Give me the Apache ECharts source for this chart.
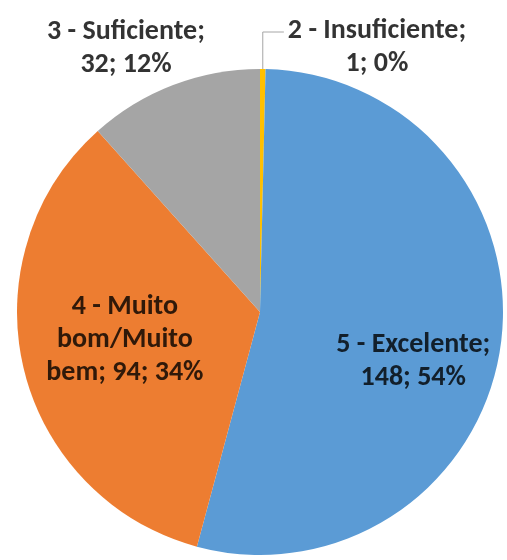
<!DOCTYPE html>
<html>
<head>
<meta charset="utf-8">
<script src="https://cdn.jsdelivr.net/npm/echarts@6/dist/echarts.min.js"></script>
</head>
<body style="margin:0;background:#fff">
<div id="main" style="width:507px;height:560px;"></div>
<script>
// slices go clockwise from 12 o'clock, same order as the excel chart
var categories = ['2 - Insuficiente', '5 - Excelente', '4 - Muito bom/Muito bem', '3 - Suficiente'];
var counts = [1, 148, 94, 32];
var colors = ['#FFC000', '#5B9BD5', '#ED7D31', '#A5A5A5'];

// max chars per label line (excel wraps them like this)
var wrapAt = [17, 14, 12, 15];
// outside labels get a fixed spot, inside ones just a nudge
var labelSpots = [
    {x: 377, y: 47},
    {dx: 30, dy: 32},
    {dx: -14, dy: -1},
    {x: 126, y: 48}
];

function wrap(s, n) {
    var words = s.split(' '), lines = [], cur = '';
    words.forEach(function (w) {
        if (cur && (cur + ' ' + w).length > n) {
            lines.push(cur);
            cur = w;
        } else {
            cur = cur ? cur + ' ' + w : w;
        }
    });
    lines.push(cur);
    return lines.join('\n');
}

var myChart = echarts.init(document.getElementById('main'));

var data = categories.map(function (name, i) {
    var outside = labelSpots[i].x != null;
    return {
        name: name,
        value: counts[i],
        itemStyle: {color: colors[i]},
        label: {position: outside ? 'outside' : 'inside'},
        labelLine: {show: i === 0}
    };
});

option = {
    animation: false,
    series: [{
        type: 'pie',
        center: [260, 312],
        radius: 243,
        startAngle: 90,
        clockwise: true,
        avoidLabelOverlap: false,
        data: data,
        label: {
            fontFamily: 'Carlito, Lato, sans-serif',
            fontWeight: 'bold',
            fontSize: 28,
            lineHeight: 33,
            color: 'rgba(0,0,0,0.8)',
            align: 'center',
            formatter: function (p) {
                var s = p.name + '; ' + p.value + '; ' + Math.round(p.percent) + '%';
                return wrap(s, wrapAt[p.dataIndex]);
            }
        },
        labelLine: {
            lineStyle: {color: '#a6a6a6', width: 1}
        },
        labelLayout: function (p) {
            var spot = labelSpots[p.dataIndex];
            if (spot.x == null) {
                return {dx: spot.dx, dy: spot.dy};
            }
            var res = {x: spot.x, y: spot.y, align: 'center', verticalAlign: 'middle'};
            if (p.labelLinePoints) {
                var start = p.labelLinePoints[0];
                var lineY = spot.y - 15;
                res.labelLinePoints = [
                    start,
                    [start[0], lineY],
                    [spot.x - p.labelRect.width / 2 - 4, lineY]
                ];
            }
            return res;
        }
    }]
};

myChart.setOption(option);
</script>
</body>
</html>
